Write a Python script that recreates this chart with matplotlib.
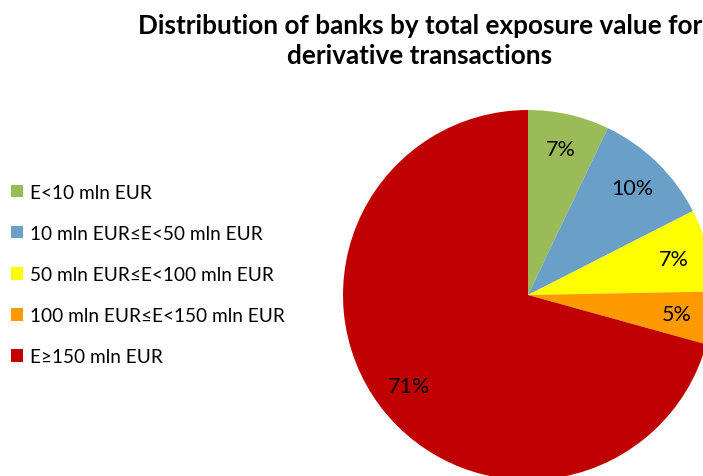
import matplotlib.pyplot as plt

# Dados do gráfico
categorias = ['E<10 mln EUR', '10 mln EUR≤E<50 mln EUR', '50 mln EUR≤E<100 mln EUR',
              '100 mln EUR≤E<150 mln EUR', 'E≥150 mln EUR']
valores = [7.1, 10.4, 7.2, 4.6, 70.7]
cores = ['#9BBB59', '#6A9FC8', '#FFFF00', '#FF9900', '#C00000']

plt.rcParams['font.family'] = ['Lato', 'DejaVu Sans']

fig = plt.figure(figsize=(7.03, 4.77), dpi=100)

# Pizza - centro em (528, 296) px, raio 185 px
cx, cy, r = 528, 296, 185
ax = fig.add_axes([(cx - r) / 703, (477 - cy - r) / 477, 2 * r / 703, 2 * r / 477])
fatias, textos, pcts = ax.pie(valores, colors=cores, startangle=90, counterclock=False,
                              autopct='%.0f%%', pctdistance=0.81,
                              wedgeprops={'linewidth': 0},
                              textprops={'fontsize': 15.5, 'color': 'black'})
ax.set_xlim(-1, 1)
ax.set_ylim(-1, 1)
ax.set_aspect('equal')

fig.text(420 / 703, 1 - 41 / 477, 'Distribution of banks by total exposure value for\nderivative transactions',
         ha='center', va='center', fontsize=18.8, fontweight='bold', linespacing=1.3)

fig.legend(fatias, categorias, loc='upper left', bbox_to_anchor=(0.005, 1 - 177 / 477),
           frameon=False, fontsize=13.7, handlelength=0.65, handleheight=0.65,
           handletextpad=0.35, labelspacing=1.27, borderaxespad=0)

fig.savefig('out.png', dpi=100)
